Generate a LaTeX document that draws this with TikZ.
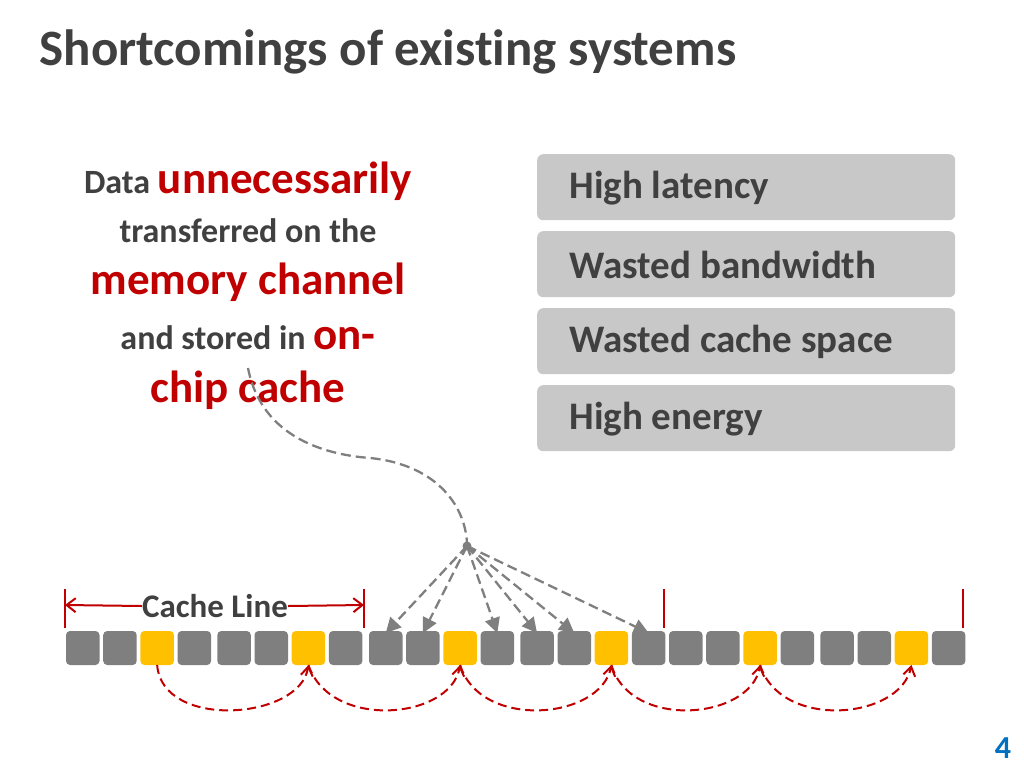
\documentclass[tikz,border=0pt]{standalone}
\usepackage{fontspec}
\setmainfont{Carlito}[RawFeature={-liga}]
\usetikzlibrary{arrows.meta}
\definecolor{dred}{HTML}{C00000}
\definecolor{txt}{HTML}{404040}
\definecolor{blk}{HTML}{7F7F7F}
\definecolor{ylw}{HTML}{FFC000}
\definecolor{boxg}{HTML}{C8C8C8}
\definecolor{pblue}{HTML}{0070C0}
\begin{document}
\begin{tikzpicture}[x=1pt,y=-1pt,
  cell/.style={rounded corners=4pt,fill=blk},
  ycell/.style={rounded corners=4pt,fill=ylw},
  prob/.style={rounded corners=6pt,fill=boxg,minimum width=418pt,minimum height=66pt,anchor=north west,inner sep=0pt},
  ptxt/.style={anchor=west,text=txt,font=\bfseries\fontsize{39}{42}\selectfont},
  redarc/.style={draw=dred,line width=2pt,dash pattern=on 9pt off 5pt,-{Straight Barb[length=9pt,width=12pt]}},
  garr/.style={draw=blk,line width=2.3pt,dash pattern=on 10pt off 5pt,-{Triangle[length=15pt,width=15pt]}},
  tick/.style={draw=dred,line width=2.2pt},
  big/.style={font=\bfseries\fontsize{45}{48}\selectfont,text=dred},
  sm/.style={font=\bfseries\fontsize{34}{38}\selectfont,text=txt}]
\useasboundingbox (0,0) rectangle (1024,768);
\node[anchor=west,text=txt,font=\bfseries\fontsize{51}{56}\selectfont] (title) at (36,52) {Shortcomings of existing systems};
% left text
\node[anchor=center] (l1) at (248,181) {\fontsize{34}{38}\selectfont\bfseries\color{txt}Data \fontsize{45}{48}\selectfont\color{dred}unnecessarily};
\node[sm] (l2) at (248,231) {transferred on the};
\node[big] (l3) at (248,282) {memory channel};
\node (l4) at (248,338) {\fontsize{34}{38}\selectfont\bfseries\color{txt}and stored in \fontsize{45}{48}\selectfont\color{dred}on-};
\node[big] (l5) at (248,390) {chip cache};
% boxes
\foreach \y/\t [count=\i] in {154/High latency,231/Wasted bandwidth,308/Wasted cache space,385/High energy}{
  \node[prob] (b\i) at (537,\y) {};
  \node[ptxt] (bt\i) at (566,\y+34) {\t};
}
% cells
\foreach \g/\x in {0/66,1/369,2/669}{
  \foreach \i in {0,...,7}{
    \pgfmathsetmacro{\xx}{\x+\i*37.2+(\i>3?2.5:0)}
    \ifnum\i=2 \def\st{ycell}\else\ifnum\i=6 \def\st{ycell}\else\def\st{cell}\fi\fi
    \path[\st] (\xx,631) rectangle ++(33.5,34);
    \coordinate (c\g\i) at (\xx+16.75,631);
    \coordinate (d\g\i) at (\xx+16.75,665);
  }
}
% cache line markers
\foreach \x/\n in {65/m0,364/m1,664/m2,963/m3}{\draw[tick] (\x,589) -- (\x,628); \coordinate (\n) at (\x,605);}
\node[text=txt,font=\bfseries\fontsize{33}{36}\selectfont,inner sep=0pt] (cl) at (215,606) {Cache Line};
\draw[dred,line width=2pt,-{Straight Barb[length=9pt,width=14pt]}] (cl.west) -- (m0);
\draw[dred,line width=2pt,-{Straight Barb[length=9pt,width=14pt]}] (cl.east) -- (m1);
% red arcs
\draw[redarc] (d02) .. controls (162,730) and (300,720) .. (d06);
\draw[redarc] (d06) .. controls (330,730) and (450,720) .. (d12);
\draw[redarc] (d12) .. controls (480,730) and (600,720) .. (d16);
\draw[redarc] (d16) .. controls (630,730) and (750,720) .. (d22);
\draw[redarc] (d22) .. controls (780,730) and (900,720) .. (d26);
% gray arrows
\coordinate (hub) at (467,546);
\fill[blk] (hub) circle (4.5pt);
\draw[draw=blk,line width=2.3pt,dash pattern=on 10pt off 5pt] (248,368) .. controls (262,440) and (330,455) .. (370,458) .. controls (440,465) and (467,510) .. (hub);
\foreach \t in {c10,c11,c13,c14,c15,c17}{\draw[garr] (hub) -- ([yshift=-2pt]\t);}
\node[text=pblue,font=\bfseries\fontsize{32}{34}\selectfont] (pg) at (1003,748) {4};
\end{tikzpicture}
\end{document}
